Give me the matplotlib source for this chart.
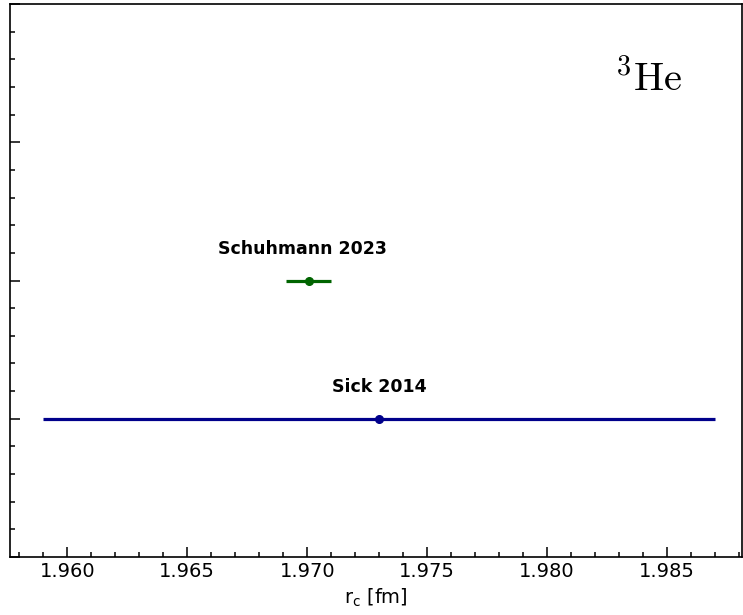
import matplotlib
matplotlib.use("Agg")
import matplotlib.pyplot as plt
from matplotlib.ticker import MultipleLocator

# measurements of the 3He charge radius
labels = ["Sick 2014", "Schuhmann 2023"]
radius = [1.973, 1.97007]
err = [0.014, 0.00094]
ypos = [1, 2]
colors = ["darkblue", "darkgreen"]
label_x = [1.973, 1.9698]

fig = plt.figure(figsize=(7.43, 6.15), dpi=100)
ax = fig.add_axes([10 / 743, 1 - 557 / 615, 732 / 743, 553 / 615])

for i in range(len(labels)):
    ax.errorbar(radius[i], ypos[i], xerr=err[i], fmt="o", color=colors[i],
                ecolor=colors[i], elinewidth=2.3, markersize=5.5, capsize=0)
    ax.text(label_x[i], ypos[i] + 0.23, labels[i], ha="center", va="center",
            fontsize=12.5, fontweight="bold")

ax.text(0.918, 0.90, r"$^{3}\mathrm{He}$", transform=ax.transAxes,
        ha="right", va="top", fontsize=29, math_fontfamily="cm")

ax.set_xlim(1.95761, 1.98812)
ax.set_ylim(0, 4)
ax.xaxis.set_major_locator(MultipleLocator(0.005))
ax.xaxis.set_minor_locator(MultipleLocator(0.001))
ax.yaxis.set_major_locator(MultipleLocator(1))
ax.yaxis.set_minor_locator(MultipleLocator(0.2))
ax.xaxis.set_major_formatter(plt.FormatStrFormatter("%.3f"))
for s in ax.spines.values():
    s.set_linewidth(1.2)
ax.tick_params(which="both", direction="in", labelsize=14, width=1.1)
ax.tick_params(which="major", length=7)
ax.tick_params(which="minor", length=3.5)
ax.tick_params(axis="y", labelleft=False)
ax.set_xlabel(r"r$_\mathrm{c}$ [fm]", fontsize=14)

fig.savefig("out.png", dpi=100)
